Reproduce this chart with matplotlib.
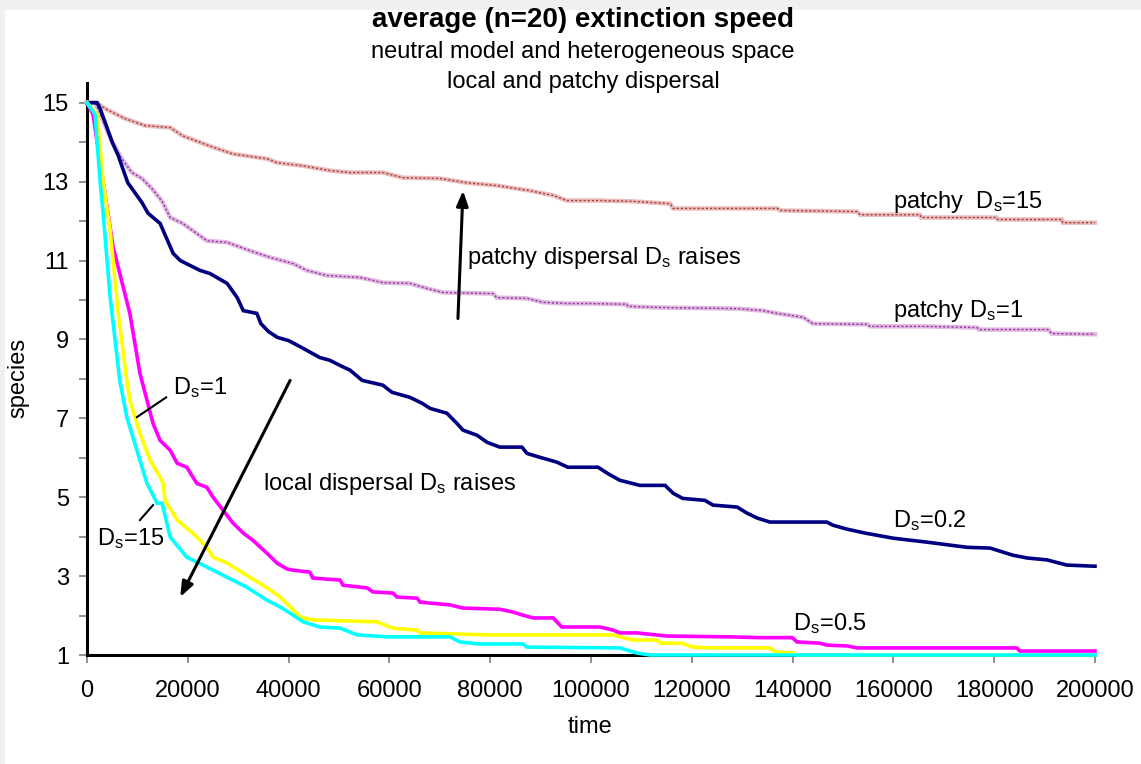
import numpy as np
import matplotlib
matplotlib.use("Agg")
import matplotlib.pyplot as plt
from matplotlib.patches import Rectangle

plt.rcParams["font.family"] = ["Liberation Sans", "DejaVu Sans"]
plt.rcParams["mathtext.fontset"] = "custom"
plt.rcParams["mathtext.rm"] = "Liberation Sans"
plt.rcParams["mathtext.it"] = "Liberation Sans"

# patchy dispersal Ds=15
T_P15 = [0, 2000, 3600, 7500, 11500, 16500, 19000, 24400, 29000, 35700, 37700,
         42900, 48200, 52200, 58700, 62700, 70000, 75400, 81300, 83900, 87900,
         92500, 95200, 101800, 108300, 115700, 116300, 137000, 137500, 152800,
         153400, 165300, 165500, 180500, 180700, 193400, 193600, 200000]
S_P15 = [15, 15, 14.85, 14.6, 14.42, 14.37, 14.16, 13.9, 13.7, 13.58, 13.48,
         13.4, 13.28, 13.23, 13.23, 13.1, 13.08, 12.97, 12.9, 12.85, 12.77,
         12.65, 12.52, 12.52, 12.5, 12.44, 12.32, 12.32, 12.27, 12.24,
         12.16, 12.16, 12.09, 12.09, 12.04, 12.04, 11.96, 11.96]

# patchy dispersal Ds=1
T_P1 = [0, 1500, 2200, 3600, 5000, 6900, 8900, 10900, 12900, 14900, 16500,
        19000, 23800, 27800, 32300, 36300, 40900, 43600, 47600, 54200, 58700,
        64100, 67500, 70600, 80600, 81300, 87300, 90500, 95200, 99800, 107100,
        107300, 113100, 129000, 134100, 136900, 142100, 144000, 154900, 155300,
        166300, 176600, 177000, 190700, 191400, 200000]
S_P1 = [15, 15, 14.85, 14.42, 14.0, 13.58, 13.23, 13.08, 12.82, 12.5, 12.09,
        11.94, 11.5, 11.46, 11.25, 11.08, 10.92, 10.75, 10.62, 10.57, 10.44,
        10.42, 10.29, 10.19, 10.16, 10.06, 10.04, 9.94, 9.91, 9.91, 9.89,
        9.84, 9.81, 9.78, 9.73, 9.66, 9.56, 9.40, 9.38, 9.33,
        9.33, 9.30, 9.25, 9.25, 9.15, 9.13]

# local dispersal Ds=0.2
T_02 = [0, 2000, 2600, 3600, 5000, 6200, 7100, 8100, 9500, 10900, 12100,
        14500, 17100, 18500, 22400, 24400, 27800, 29800, 31000, 33700, 34500,
        36000, 37800, 40000, 42500, 46200, 48200, 50200, 52200, 54600, 58700,
        60500, 64100, 66500, 68100, 71400, 73400, 74600, 77400, 79400, 81900,
        86300, 87300, 89900, 93200, 95400, 101400, 103200, 105700, 109700,
        114700, 116300, 118200, 122600, 124200, 129000, 130900, 133000, 135500,
        146800, 148000, 150800, 154400, 160000, 166700, 174600, 179200, 183700,
        186500, 190500, 194400, 200000]
S_02 = [15, 15, 14.85, 14.5, 14.0, 13.66, 13.33, 12.97, 12.72, 12.47, 12.2,
        11.94, 11.18, 11.0, 10.75, 10.67, 10.42, 10.06, 9.73, 9.66, 9.4,
        9.2, 9.05, 8.97, 8.8, 8.54, 8.47, 8.34, 8.22, 7.96, 7.84,
        7.66, 7.53, 7.38, 7.25, 7.13, 6.87, 6.70, 6.57, 6.39, 6.27,
        6.27, 6.11, 6.01, 5.89, 5.76, 5.76, 5.61, 5.43, 5.30,
        5.30, 5.10, 4.97, 4.92, 4.80, 4.75, 4.60, 4.47, 4.37,
        4.37, 4.29, 4.19, 4.09, 3.96, 3.86, 3.73, 3.71, 3.53,
        3.46, 3.41, 3.28, 3.25]

# local dispersal Ds=0.5
T_05 = [0, 1200, 3200, 5200, 8500, 10500, 11900, 13100, 14500, 16500, 17900,
        19800, 21000, 21800, 23800, 25000, 27000, 29000, 31000, 32900, 35700,
        37700, 39700, 40900, 44200, 44800, 50200, 50800, 55600, 56700, 60700,
        61500, 65500, 66100, 72000, 74600, 81900, 84500, 86500, 88500, 92500,
        94200, 101800, 104400, 105700, 109100, 115100, 127600, 133500, 139900,
        140900, 145400, 146800, 150800, 152800, 184500, 185100, 200000]
S_05 = [15, 14.7, 13.0, 11.33, 9.66, 8.14, 7.46, 6.87, 6.44, 6.19, 5.86,
        5.76, 5.51, 5.35, 5.25, 5.0, 4.67, 4.34, 4.09, 3.91, 3.58,
        3.33, 3.18, 3.15, 3.10, 2.95, 2.9, 2.77, 2.70, 2.6, 2.57,
        2.47, 2.44, 2.34, 2.27, 2.19, 2.16, 2.09, 2.01, 1.94, 1.94,
        1.71, 1.71, 1.63, 1.56, 1.56, 1.48, 1.46, 1.44, 1.44,
        1.33, 1.30, 1.25, 1.23, 1.18, 1.18, 1.10, 1.10]

# local dispersal Ds=1
T_1 = [0, 2000, 3200, 4600, 6200, 7900, 8500, 10500, 12500, 14500, 15100,
       15500, 17900, 21000, 23800, 25000, 27800, 32300, 34300, 36900, 38300,
       40300, 42300, 44800, 57500, 60700, 65500, 66100, 79400, 104400, 105700,
       108300, 113000, 113900, 118000, 120200, 124200, 135500, 136500, 140000,
       140900, 200000]
S_1 = [15, 14.7, 13.0, 11.76, 9.66, 7.96, 7.46, 6.62, 5.94, 5.51, 5.35,
       4.92, 4.42, 4.09, 3.73, 3.48, 3.33, 2.97, 2.82, 2.6, 2.47,
       2.22, 1.96, 1.89, 1.84, 1.68, 1.63, 1.56, 1.51, 1.51, 1.46,
       1.38, 1.38, 1.3, 1.3, 1.2, 1.18, 1.18, 1.08, 1.05,
       1.0, 1.0]

# local dispersal Ds=15
T_15 = [0, 1600, 2600, 3200, 4600, 6500, 7900, 9900, 11900, 13900, 14900,
        16500, 19800, 23800, 27800, 31700, 35700, 38300, 40300, 42900, 46200,
        50200, 53600, 59500, 72000, 74000, 78000, 86500, 87300, 105700, 109100,
        111700, 200000]
S_15 = [15, 14.7, 13.0, 12.2, 10.06, 7.96, 7.03, 6.19, 5.35, 4.85, 4.85,
        3.99, 3.48, 3.23, 2.97, 2.72, 2.39, 2.22, 2.06, 1.84, 1.71,
        1.68, 1.51, 1.46, 1.46, 1.33, 1.28, 1.28, 1.2, 1.18, 1.05,
        1.0, 1.0]

X_TICKS = np.arange(0, 200001, 20000)
Y_TICKS = [1, 3, 5, 7, 9, 11, 13, 15]

FS = 17


def main():
    fig = plt.figure(figsize=(11.41, 7.64), dpi=100, facecolor="#f0f0f0")
    fig.patches.append(Rectangle((5 / 1141, 0), 1, 1 - 10 / 764,
                                 transform=fig.transFigure, facecolor="white",
                                 edgecolor="none", zorder=-10))
    ax = fig.add_axes([87 / 1141, 1 - 655 / 764, 1008 / 1141, 572 / 764])
    ax.set_facecolor("none")

    kw = dict(clip_on=False, zorder=3, solid_joinstyle="miter")
    # patchy lines: light halo with a thin dotted core
    ax.plot(T_P15, S_P15, color="#e8bcbc", lw=3.2, **kw)
    ax.plot(T_P15, S_P15, color="#a83a3a", lw=1.0, ls=(0, (1.5, 1.5)), **kw)
    ax.plot(T_P1, S_P1, color="#dfb8df", lw=3.2, **kw)
    ax.plot(T_P1, S_P1, color="#9a2fa0", lw=1.0, ls=(0, (1.5, 1.5)), **kw)
    ax.plot(T_02, S_02, color="#000080", lw=2.6, **kw)
    ax.plot(T_05, S_05, color="#ff00ff", lw=2.6, **kw)
    ax.plot(T_1, S_1, color="#ffff00", lw=2.6, **kw)
    ax.plot(T_15, S_15, color="#00ffff", lw=2.6, **kw)

    ax.set_xlim(0, 200000)
    ax.set_ylim(1, 15.5)
    ax.set_xticks(X_TICKS)
    ax.set_xticklabels([str(v) for v in X_TICKS])
    ax.set_yticks(Y_TICKS)
    ax.set_yticks(np.arange(2, 16, 2), minor=True)
    for s in ("top", "right"):
        ax.spines[s].set_visible(False)
    for s in ("left", "bottom"):
        ax.spines[s].set_linewidth(2.2)
        ax.spines[s].set_color("black")
    ax.tick_params(axis="both", which="both", color="#888888", width=1.3,
                   labelsize=FS, direction="out")
    ax.tick_params(axis="x", length=6, pad=12)
    ax.tick_params(axis="y", which="major", length=6, pad=7)
    ax.tick_params(axis="y", which="minor", length=6)

    fig.text(0.511, 0.974, "average (n=20) extinction speed", ha="center",
             va="center", fontsize=20, fontweight="bold")
    fig.text(0.511, 0.932, "neutral model and heterogeneous space",
             ha="center", va="center", fontsize=FS)
    fig.text(0.511, 0.893, "local and patchy dispersal", ha="center",
             va="center", fontsize=FS)
    fig.text(0.016, 0.505, "species", rotation=90, ha="center", va="center",
             fontsize=FS)
    fig.text(0.517, 0.048, "time", ha="center", va="center", fontsize=FS)

    D = r"D$_{\rm s}$"
    ax.text(159900, 12.32, "patchy  " + D + "=15", fontsize=FS, va="baseline")
    ax.text(159900, 9.56, "patchy " + D + "=1", fontsize=FS, va="baseline")
    ax.text(159900, 4.24, D + "=0.2", fontsize=FS, va="baseline")
    ax.text(140100, 1.63, D + "=0.5", fontsize=FS, va="baseline")
    ax.text(75400, 10.92, "patchy dispersal " + D + " raises", fontsize=FS,
            va="baseline")
    ax.text(34900, 5.18, "local dispersal " + D + " raises", fontsize=FS,
            va="baseline")
    ax.text(17100, 7.61, D + "=1", fontsize=FS, va="baseline")
    ax.text(2000, 3.78, D + "=15", fontsize=FS, va="baseline")

    ax.plot([9900, 15700], [7.03, 7.53], color="black", lw=1.5, zorder=4)
    ax.plot([10500, 13100], [4.42, 4.80], color="black", lw=1.5, zorder=4)

    arrow = dict(arrowstyle="-|>,head_length=0.9,head_width=0.35",
                 color="black", lw=2.2, shrinkA=0, shrinkB=0)
    ax.annotate("", xy=(74600, 12.77), xytext=(73600, 9.53),
                arrowprops=arrow, zorder=5)
    ax.annotate("", xy=(18500, 2.47), xytext=(40300, 7.96),
                arrowprops=arrow, zorder=5)

    fig.savefig("out.png", dpi=100, facecolor=fig.get_facecolor())


if __name__ == "__main__":
    main()
